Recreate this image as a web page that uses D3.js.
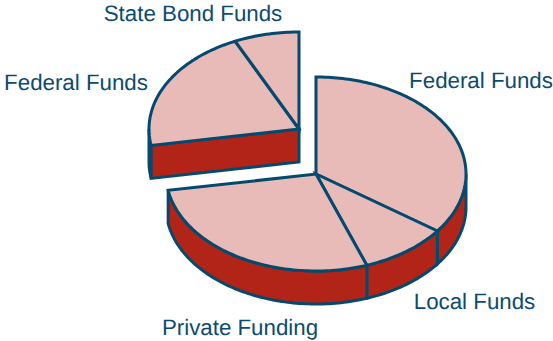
<!DOCTYPE html>
<html>
<head>
<meta charset="utf-8">
<script src="https://cdn.jsdelivr.net/npm/d3@7/dist/d3.min.js"></script>
<style>html,body{margin:0;padding:0;background:#fff}svg{display:block}</style>
</head>
<body>
<svg id="c" width="553" height="341"></svg>
<script>
const categories = ["Federal Funds", "Local Funds", "Private Funding", "Federal Funds", "State Bond Funds"];
const shares = [35, 9.5, 27.8, 20.7, 7];
const exploded = [false, false, false, true, true];
const labelX = [481, 474.5, 240, 76, 193];
const labelY = [88, 308.5, 335, 90, 21];

const C = {top:"#E8BBB8", side:"#B22418", line:"#034A6E", text:"#0D4A70"};
const cx = 316, cy = 174, rx = 150, ry = 97, depth = 33, dx = -17, dy = -45;
const svg = d3.select("#c");
const sx = d3.scaleLinear().domain([-1,1]).range([-rx,rx]);
const sy = d3.scaleLinear().domain([-1,1]).range([-ry,ry]);
const pie = d3.pie().value(d=>d).sort(null).startAngle(0).endAngle(2*Math.PI);
const arcs = pie(shares);
const HALF = Math.PI/2, END = 3*Math.PI/2;
const pt = (a,z=0)=>[sx(Math.sin(a)), sy(-Math.cos(a))+z];
const line = d3.line();

function sampleAngles(a0,a1){
  const n = Math.max(2,Math.ceil((a1-a0)/0.02));
  return d3.range(n+1).map(i=>a0+(a1-a0)*i/n);
}
function topPath(a){
  const pts = sampleAngles(a.startAngle,a.endAngle).map(t=>pt(t));
  return line([[0,0],...pts])+"Z";
}
function wallPath(a0,a1){
  const as = sampleAngles(a0,a1);
  return line([...as.map(t=>pt(t)),...as.slice().reverse().map(t=>pt(t,depth))])+"Z";
}
function drawGroup(items,tx,ty,cut){
  const g = svg.append("g").attr("transform",`translate(${tx},${ty})`)
    .attr("stroke",C.line).attr("stroke-width",3).attr("stroke-linejoin","miter");
  items.forEach(a=>{
    const a0 = Math.max(a.startAngle,HALF), a1 = Math.min(a.endAngle,END);
    if(a1>a0) g.append("path").attr("d",wallPath(a0,a1)).attr("fill",C.side);
  });
  if(cut!=null){
    const p = pt(cut);
    g.append("path").attr("fill",C.side)
      .attr("d",line([[0,0],p,[p[0],p[1]+depth],[0,depth]])+"Z");
  }
  items.forEach(a=>g.append("path").attr("d",topPath(a)).attr("fill",C.top));
}
drawGroup(arcs.filter((a,i)=>exploded[i]),cx+dx,cy+dy,arcs[3].startAngle);
drawGroup(arcs.filter((a,i)=>!exploded[i]),cx,cy,null);

svg.selectAll("text").data(categories).join("text")
  .attr("x",(d,i)=>labelX[i]).attr("y",(d,i)=>labelY[i])
  .attr("text-anchor","middle")
  .attr("font-family","'Liberation Sans',Arial,sans-serif")
  .attr("text-rendering","geometricPrecision")
  .attr("font-size",22.3).attr("fill",C.text).text(d=>d);
</script>
</body>
</html>
